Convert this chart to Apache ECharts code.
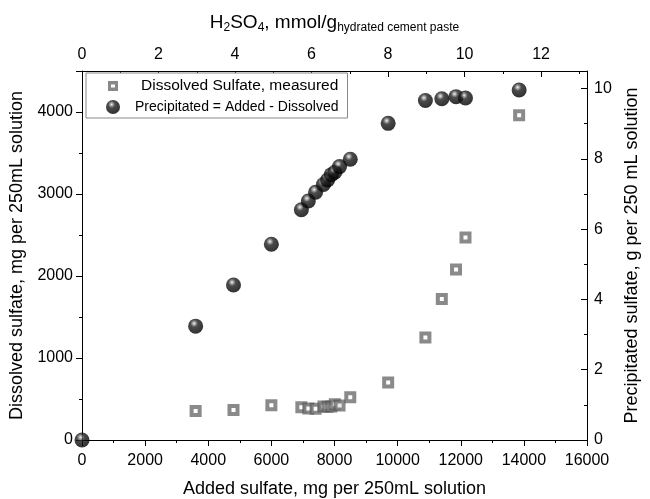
<!DOCTYPE html>
<html>
<head>
<meta charset="utf-8">
<script src="https://cdn.jsdelivr.net/npm/echarts@6/dist/echarts.min.js"></script>
<style>html,body{margin:0;padding:0;background:#fff}#c{width:650px;height:499px}</style>
</head>
<body>
<div id="c"></div>
<script>
var addedSulfate = [0, 3600, 4800, 6000, 6950, 7170, 7400, 7650, 7780, 7900, 8010, 8160, 8500, 9700, 10880, 11400, 11850, 12150, 13850];
var dissolvedSulfate = [null, 355, 365, 425, 400, 385, 380, 410, 405, 408, 435, 420, 520, 700, 1250, 1720, 2080, 2470, 3960];
var precipitatedSulfate = [0, 3.24, 4.41, 5.57, 6.55, 6.80, 7.05, 7.27, 7.40, 7.55, 7.62, 7.78, 7.99, 9.01, 9.66, 9.71, 9.77, 9.73, 9.96];
var seriesNames = ['Dissolved Sulfate, measured', 'Precipitated = Added - Dissolved'];

var FONT = 'Liberation Sans, Arial, sans-serif';
var dissolvedData = addedSulfate.map(function (x, i) { return dissolvedSulfate[i] == null ? null : [x, dissolvedSulfate[i]]; }).filter(Boolean);
var precipData = addedSulfate.map(function (x, i) { return [x, precipitatedSulfate[i]]; });

var sphere = {
  type: 'radial', x: 0.4, y: 0.32, r: 0.65,
  colorStops: [{offset: 0, color: '#f4f4f4'}, {offset: 0.14, color: '#9a9a9a'}, {offset: 0.38, color: '#1e1e1e'}, {offset: 1, color: '#000'}]
};
function plain(v) { return String(Math.round(v * 1000) / 1000); }
var squareIcon = 'path://M-2,-2M12,12M0,0H10V10H0Z M3,3.5V6.5H7V3.5Z';

var axisLine = {show: true, onZero: false, lineStyle: {color: '#000', width: 1}};
var chart = echarts.init(document.getElementById('c'), null, {renderer: 'canvas'});
chart.setOption({
  animation: false,
  backgroundColor: '#fff',
  textStyle: {fontFamily: FONT, color: '#000'},
  grid: {left: 82, right: 63, top: 71, bottom: 59, containLabel: false, outerBoundsMode: 'none'},
  legend: {
    left: 86, top: 73, orient: 'vertical',
    borderColor: '#888', borderWidth: 1, backgroundColor: '#fff',
    padding: [5, 9, 4, 20], itemGap: 6, itemWidth: 14, itemHeight: 14,
    data: [
      {name: seriesNames[0], icon: squareIcon, itemStyle: {color: '#6a6a6a', borderWidth: 0},
       textStyle: {fontSize: 15.5, fontFamily: FONT, color: '#000', padding: [0, 0, 0, 16]}},
      {name: seriesNames[1], textStyle: {fontSize: 14, fontFamily: FONT, color: '#000', padding: [0, 0, 0, 10]}}
    ]
  },
  xAxis: [
    {
      type: 'value', position: 'bottom', min: 0, max: 16000, interval: 2000,
      axisLine: axisLine, splitLine: {show: false},
      axisTick: {show: true, inside: false, length: 6, lineStyle: {color: '#000'}},
      minorTick: {show: true, splitNumber: 2, length: 3, lineStyle: {color: '#000'}},
      axisLabel: {fontSize: 16, color: '#000', margin: 13, fontFamily: FONT, formatter: plain},
      name: 'Added sulfate, mg per 250mL solution', nameLocation: 'middle', nameGap: 40,
      nameTextStyle: {fontSize: 18, color: '#000', fontFamily: FONT}
    },
    {
      type: 'value', position: 'top', min: 0, max: 13.2, interval: 2,
      axisLine: axisLine, splitLine: {show: false},
      axisTick: {show: true, inside: true, length: 6, lineStyle: {color: '#000'}},
      minorTick: {show: true, splitNumber: 2, length: 3, lineStyle: {color: '#000'}},
      axisLabel: {fontSize: 16, color: '#000', margin: 8, fontFamily: FONT, showMaxLabel: false, formatter: plain},
      name: '{m|H}{s|2}{m|SO}{s|4}{m|, mmol/g}{t|hydrated cement paste}', nameLocation: 'middle', nameGap: 37,
      nameTextStyle: {
        fontFamily: FONT,
        rich: {
          m: {fontSize: 19, color: '#000', fontFamily: FONT},
          s: {fontSize: 12, color: '#000', fontFamily: FONT, padding: [11, 0, 0, 0]},
          t: {fontSize: 12, color: '#000', fontFamily: FONT, padding: [11, 0, 0, 0]}
        }
      }
    }
  ],
  yAxis: [
    {
      type: 'value', position: 'left', min: 0, max: 4500, interval: 1000,
      axisLine: axisLine, splitLine: {show: false},
      axisTick: {show: true, inside: false, length: 6, lineStyle: {color: '#000'}},
      minorTick: {show: true, splitNumber: 2, length: 3, lineStyle: {color: '#000'}},
      axisLabel: {fontSize: 16, color: '#000', margin: 9, fontFamily: FONT, showMaxLabel: false, formatter: plain},
      name: 'Dissolved sulfate, mg per 250mL solution', nameLocation: 'middle', nameGap: 54,
      nameTextStyle: {fontSize: 18, color: '#000', fontFamily: FONT}
    },
    {
      type: 'value', position: 'right', min: 0, max: 10.5, interval: 2,
      axisLine: axisLine, splitLine: {show: false},
      axisTick: {show: true, inside: true, length: 6, lineStyle: {color: '#000'}},
      minorTick: {show: true, splitNumber: 2, length: 3, lineStyle: {color: '#000'}},
      axisLabel: {fontSize: 16, color: '#000', margin: 7, fontFamily: FONT, showMaxLabel: false, formatter: plain},
      name: 'Precipitated sulfate, g per 250 mL solution', nameLocation: 'middle', nameGap: 30,
      nameTextStyle: {fontSize: 18, color: '#000', fontFamily: FONT}
    }
  ],
  series: [
    {
      name: seriesNames[0], type: 'scatter', xAxisIndex: 0, yAxisIndex: 0,
      symbol: 'rect', symbolSize: 8, clip: false, z: 2,
      itemStyle: {color: '#fff', borderColor: 'rgba(88,88,88,0.88)', borderWidth: 4},
      data: dissolvedData
    },
    {
      name: seriesNames[1], type: 'scatter', xAxisIndex: 0, yAxisIndex: 1,
      symbol: 'circle', symbolSize: 15, clip: false, z: 3,
      itemStyle: {color: sphere},
      data: precipData
    }
  ]
});
</script>
</body>
</html>
